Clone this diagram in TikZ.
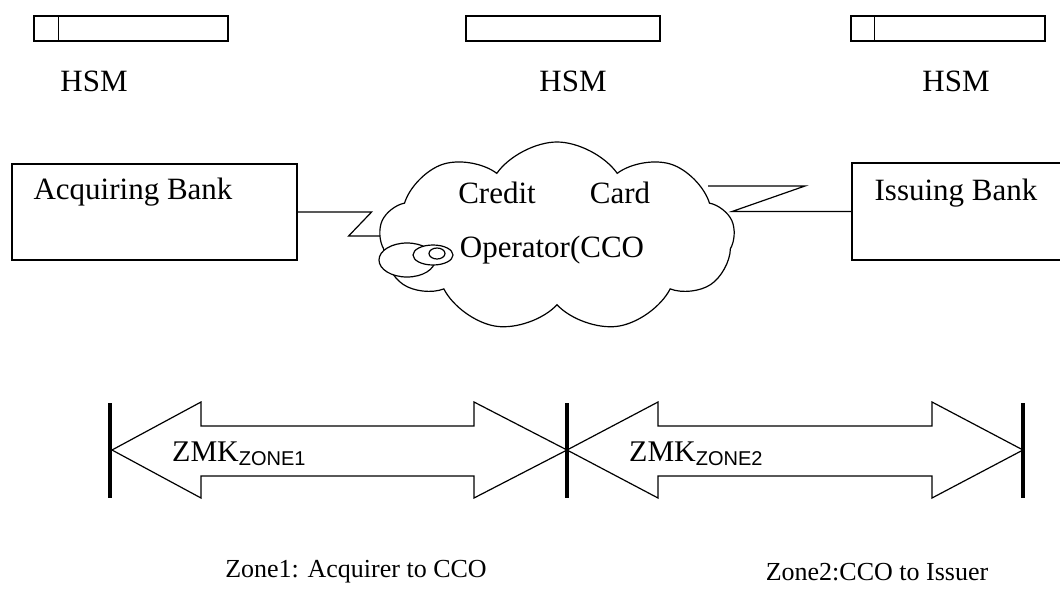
\documentclass[tikz,border=0pt]{standalone}
\usepackage{fontspec}
\setmainfont{Liberation Serif}
\newfontfamily\subfont{Liberation Sans}
\usetikzlibrary{shapes.symbols,shapes.geometric,calc}
\tikzset{
  ln/.style={line width=1.2pt, black},
  hsmbox/.style={draw, ln, rectangle, minimum width=194pt, minimum height=25pt, inner sep=0pt},
  bankbox/.style={draw, ln, rectangle, inner sep=0pt},
  lbl/.style={inner sep=0pt, font=\fontsize{31}{36}\selectfont},
  zlbl/.style={inner sep=0pt, font=\fontsize{26}{30}\selectfont},
  bigarrow/.style={draw, ln, fill=white, line join=miter},
  bar/.style={line width=4pt},
  bubble/.style={draw, ln, fill=white, ellipse}
}
\begin{document}
\begin{tikzpicture}[x=1pt,y=-1pt]
\useasboundingbox (0,0) rectangle (1060,595);
% HSM boxes
\node[hsmbox] (hsm1) at (131,28.5) {};
\draw[ln] ($(hsm1.north west)+(24.7,0)$) -- ($(hsm1.south west)+(24.7,0)$);
\node[hsmbox] (hsm2) at (563,28.5) {};
\node[hsmbox] (hsm3) at (948,28.5) {};
\draw[ln] ($(hsm3.north west)+(24,0)$) -- ($(hsm3.south west)+(24,0)$);
\node[lbl] (hl1) at (94,81) {HSM};
\node[lbl] (hl2) at (573,81) {HSM};
\node[lbl] (hl3) at (956,81) {HSM};
% banks
\node[bankbox, minimum width=285pt, minimum height=96pt] (acq) at (154.5,212) {};
\node[lbl] (acqt) at (133,192) {Acquiring Bank};
\node[bankbox, minimum width=218pt, minimum height=97pt] (iss) at (961,211.5) {};
\node[lbl] (isst) at (956,193) {Issuing Bank};
% connectors
\draw[ln] (acq.east) -- ++(74,0) -- ++(-23,24) -- ++(49,0) coordinate (lend);
% cloud
\node[draw, ln, fill=white, cloud, cloud puffs=9, cloud puff arc=110, aspect=1.87,
      minimum width=355pt, minimum height=190pt, inner sep=0pt] (cco) at (557,237) {};
\draw[ln] (iss.west) -- (732,211.5) -- (805,186) -- (708,186) coordinate (rend);
\node[bubble, minimum width=56pt, minimum height=34pt, inner sep=0pt] (b1) at (407,260) {};
\node[bubble, minimum width=40pt, minimum height=20pt, inner sep=0pt] (b2) at (433,255) {};
\node[bubble, minimum width=16pt, minimum height=11pt, inner sep=0pt] (b3) at (437,253.5) {};
\node[lbl] (cr) at (497,193) {Credit};
\node[lbl] (cd) at (620,193) {Card};
\node[lbl] (op) at (552,250) {Operator(CCO};
% big arrows
\draw[bigarrow] (112,450) -- (201,402) -- (201,426) -- (474,426) -- (474,402) -- (567,450)
  -- (474,498) -- (474,476) -- (201,476) -- (201,498) -- cycle;
\draw[bigarrow] (567,450) -- (658,402) -- (658,426) -- (932,426) -- (932,402) -- (1023,450)
  -- (932,498) -- (932,476) -- (658,476) -- (658,498) -- cycle;
\coordinate (t1) at (110,403); \coordinate (b1b) at (110,498);
\coordinate (t2) at (567,403); \coordinate (b2b) at (567,498);
\coordinate (t3) at (1023,403); \coordinate (b3b) at (1023,498);
\draw[bar] (t1) -- (b1b);
\draw[bar] (t2) -- (b2b);
\draw[bar] (t3) -- (b3b);
\node[lbl, anchor=base west, font=\fontsize{30}{34}\selectfont] (z1) at (172,461)
  {ZMK\raisebox{-4pt}{\subfont\fontsize{20}{24}\selectfont ZONE1}};
\node[lbl, anchor=base west, font=\fontsize{30}{34}\selectfont] (z2) at (629,461)
  {ZMK\raisebox{-4pt}{\subfont\fontsize{20}{24}\selectfont ZONE2}};
% zone labels
\node[zlbl] (zl1) at (356,572) {Zone1: Acquirer to CCO};
\node[zlbl] (zl2) at (877,572) {Zone2:CCO to Issuer};
\end{tikzpicture}
\end{document}
